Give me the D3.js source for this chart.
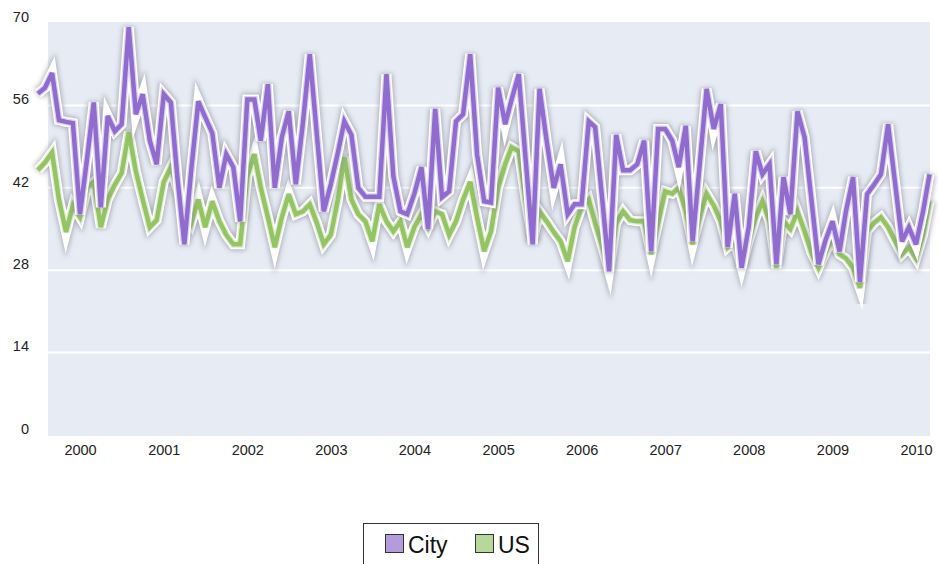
<!DOCTYPE html>
<html><head><meta charset="utf-8">
<script src="https://cdnjs.cloudflare.com/ajax/libs/d3/7.8.5/d3.min.js"></script>
<style>body{margin:0;background:#fff;} svg{display:block;font-family:"Liberation Sans",Arial,sans-serif;}</style>
</head><body><svg id="c" width="938" height="564"></svg>
<script>
// Monthly values, July 1999 .. March 2010
const city = [58,59,61.5,53.5,53.2,53,37.5,47,56.5,38.7,54.2,51.6,52.8,69.3,54.5,57.9,50,46,57.9,56.5,
44,32.4,45,56.7,54,51.3,42,47.7,45.5,36.3,57,57,50,59.6,42,50.6,55,42.6,53,64.7,
51,38,42.6,48,53.3,51,42,40.5,40.5,40.5,61.3,44,38,37.5,41,45.5,35,55.4,40.4,41.4,
53.3,54.5,64.7,47.7,39.7,39.5,59,52.8,57,61.3,47,32.4,58.8,50,42,46,37.5,39.2,39.2,53.3,
52.3,40,27.8,51,45,45,46,50,31.2,52,52,50,45.5,52.5,32.9,46,58.8,52,56.2,31.9,
41,28.4,35.3,48.2,44.3,46,29,43.8,37.5,55,50.6,40,29,33,36.3,31.2,38,43.8,26,40.9,
42.5,44.3,52.8,43,32.9,35.3,32.4,38,44.3];
const us = [45,46.3,48,40,34.5,39,37,42,43,35.3,40,42.5,44.5,51.5,44.8,40,35.3,36.5,43,45.5,
42,38,36,40,35.3,39.7,36.3,34,32.4,32.4,44,47.7,42,37,31.9,37,40.9,37.5,38,39.2,
36,32.4,34,40,47.2,40,37.5,36.3,32.9,39.2,36.3,34.6,36.3,31.9,35.3,37.5,35.3,38,37.5,34,
36.3,40,43,37,31.2,34.6,42,46,48.9,48.2,40,33,38,36.3,34.5,32.9,29.5,35.3,38.7,40,
36,32,27.8,36,38,36.5,36.3,36.3,30.7,36,41.4,41,42,38,32.4,37,41,39,36.3,31.9,
33,28.5,33,37,39.7,36.3,28.4,36.3,35,38,34.6,31,28.4,31,33.6,30.7,30,28.4,25,34.6,
36,37,35.3,33,30.7,31.9,30,34,39.7];
const seriesNames = ["City", "US"];
const yTicks = [0, 14, 28, 42, 56, 70];
const yearTicks = [2000,2001,2002,2003,2004,2005,2006,2007,2008,2009,2010];
const lineColors = ["#906ccf", "#94c463"];
const swatchColors = ["#b49bdc", "#b7d79b"];

const svg = d3.select("#c");
const dates = d3.range(city.length).map(i => new Date(1999, 6 + i, 1));
const x = d3.scaleTime().domain([new Date(2000,0,1), new Date(2010,0,1)]).range([80, 916]);
const y = d3.scaleLinear().domain([0, 70]).range([435, 23]);

const defs = svg.append("defs");
const f = defs.append("filter").attr("id","sh").attr("x","-10%").attr("y","-10%").attr("width","120%").attr("height","120%");
f.append("feGaussianBlur").attr("stdDeviation", 2.5);

// plot background
svg.append("rect").attr("x", 48).attr("y", 22).attr("width", 882).attr("height", 414).attr("fill", "#e6ebf4");

// gridlines
svg.append("g").selectAll("line").data(yTicks.filter(d => d > 0 && d < 70)).join("line")
  .attr("x1", 48).attr("x2", 930).attr("y1", d => y(d)).attr("y2", d => y(d))
  .attr("stroke", "#ffffff").attr("stroke-width", 2);

// y axis
const ya = svg.append("g").attr("transform", "translate(29,0)")
  .call(d3.axisLeft(y).tickValues(yTicks).tickSize(0).tickPadding(0));
ya.select(".domain").remove();
ya.selectAll("text").attr("font-size", 14.5).attr("fill", "#222").attr("dy", "-0.12em")
  .attr("font-family", "Liberation Sans, Arial, sans-serif");

// x axis
const xa = svg.append("g").attr("transform", "translate(0,445)")
  .call(d3.axisBottom(x).tickValues(yearTicks.map(yv => new Date(yv,0,1))).tickFormat(d3.timeFormat("%Y")).tickSize(0).tickPadding(0));
xa.select(".domain").remove();
xa.selectAll("text").attr("font-size", 14.5).attr("fill", "#222")
  .attr("font-family", "Liberation Sans, Arial, sans-serif");

const line = d3.line().x((d, i) => x(dates[i])).y(d => y(d));
const series = [us, city];
const cols = [lineColors[1], lineColors[0]];
series.forEach((s, k) => {
  const g = svg.append("g");
  g.append("path").datum(s).attr("d", line).attr("fill", "none")
    .attr("stroke", "#80808c").attr("stroke-opacity", 0.6).attr("stroke-width", 12)
    .attr("stroke-linejoin", "miter").attr("stroke-miterlimit", 5).attr("filter", "url(#sh)");
  g.append("path").datum(s).attr("d", line).attr("fill", "none")
    .attr("stroke", "#ffffff").attr("stroke-width", 10)
    .attr("stroke-linejoin", "miter").attr("stroke-miterlimit", 5);
  g.append("path").datum(s).attr("d", line).attr("fill", "none")
    .attr("stroke", cols[k]).attr("stroke-opacity", 0.3).attr("stroke-width", 7)
    .attr("stroke-linejoin", "miter").attr("stroke-miterlimit", 3);
  g.append("path").datum(s).attr("d", line).attr("fill", "none")
    .attr("stroke", cols[k]).attr("stroke-width", 4.5)
    .attr("stroke-linejoin", "miter").attr("stroke-miterlimit", 3);
});

// legend
const lg = svg.append("g");
lg.append("rect").attr("x", 363.5).attr("y", 523.5).attr("width", 175).attr("height", 50)
  .attr("fill", "#fff").attr("stroke", "#333").attr("stroke-width", 1);
const lx = [385, 475];
seriesNames.forEach((n, i) => {
  lg.append("rect").attr("x", lx[i] + 0.5).attr("y", 534.5).attr("width", 18).attr("height", 18)
    .attr("fill", swatchColors[i]).attr("stroke", "#333").attr("stroke-width", 1);
  lg.append("text").attr("x", lx[i] + 23).attr("y", 553).attr("font-size", 23).attr("fill", "#111").text(n);
});
</script></body></html>
